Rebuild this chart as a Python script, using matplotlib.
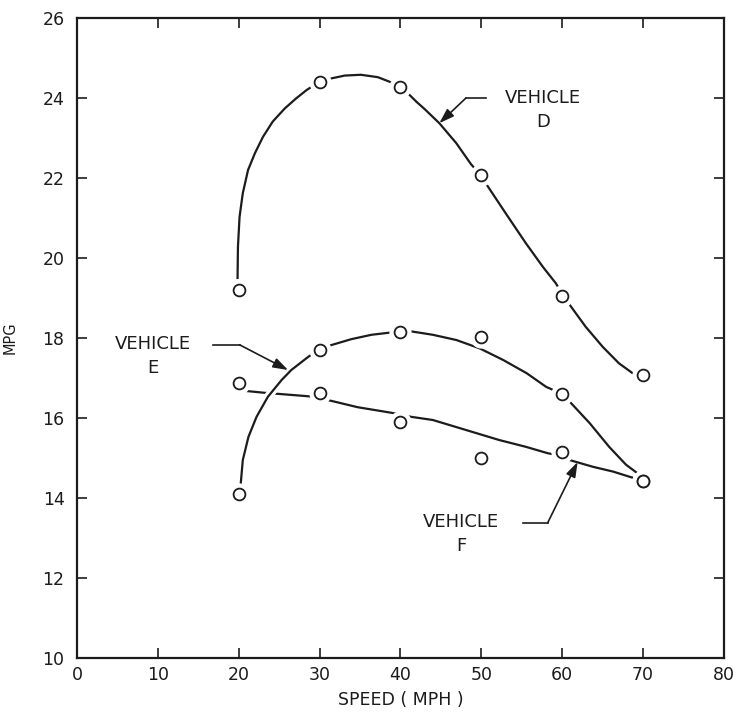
import matplotlib
matplotlib.use('Agg')
import matplotlib.pyplot as plt
import matplotlib.patheffects as pe
import numpy as np

# measured points (open circles)
speed = [20, 30, 40, 50, 60, 70]
mpg_d = [19.2, 24.4, 24.28, 22.07, 19.05, 17.08]
mpg_e = [14.1, 17.7, 18.15, 18.02, 16.6, 14.42]
mpg_f = [16.87, 16.63, 15.91, 15.0, 15.15, 14.43]

# hand-drawn fitted curves
curve_d_x = [19.85, 19.9, 20.1, 20.5, 21.15, 22.0, 23.0, 24.2, 25.7, 27.1, 28.4, 29.8,
             31.0, 33.1, 35.1, 37.2, 38.6, 39.9, 41.1, 42.0, 43.0, 44.8, 46.9, 48.7, 49.9,
             50.6, 53.0, 55.5, 57.6, 59.2, 60.0, 61.1, 62.9, 65.0, 67.0, 68.7, 70.0]
curve_d_y = [19.5, 20.28, 21.03, 21.62, 22.2, 22.62, 23.03, 23.41, 23.74, 23.99, 24.2, 24.38,
             24.47, 24.56, 24.58, 24.52, 24.41, 24.28, 24.08, 23.9, 23.72, 23.37, 22.87, 22.35,
             22.07, 21.85, 21.12, 20.37, 19.78, 19.37, 19.1, 18.78, 18.28, 17.78, 17.37, 17.12,
             17.08]

curve_e_x = [20.25, 20.5, 21.2, 22.2, 23.6, 25.3, 26.5, 28.6, 30.0, 31.4, 33.9, 36.4, 38.5,
             40.0, 41.5, 44.0, 46.9, 49.8, 52.7, 55.6, 58.0, 60.0, 61.1, 63.4, 65.8, 67.9,
             69.3, 70.0]
curve_e_y = [14.37, 14.95, 15.53, 16.03, 16.53, 16.95, 17.2, 17.53, 17.72, 17.82, 17.97,
             18.08, 18.13, 18.17, 18.16, 18.08, 17.95, 17.74, 17.45, 17.12, 16.78, 16.6,
             16.37, 15.87, 15.28, 14.83, 14.62, 14.43]

curve_f_x = [20.0, 20.7, 23.2, 25.1, 28.2, 30.0, 31.0, 34.7, 38.9, 40.0, 41.3, 44.0, 48.1,
             52.2, 55.5, 58.2, 60.0, 60.9, 63.8, 66.3, 68.5, 70.0]
curve_f_y = [16.72, 16.68, 16.63, 16.6, 16.55, 16.52, 16.45, 16.27, 16.13, 16.08, 16.03,
             15.95, 15.7, 15.45, 15.28, 15.12, 15.05, 14.95, 14.78, 14.66, 14.52, 14.43]

ink = '#1c1c1c'
plt.rcParams['font.family'] = ['DejaVu Sans']

fig = plt.figure(figsize=(7.42, 7.13), dpi=100)
ax = fig.add_axes([0.1038, 0.0771, 0.8719, 0.8977])

ax.plot(curve_d_x, curve_d_y, color=ink, lw=1.6, solid_joinstyle='round', zorder=2)
ax.plot(curve_f_x, curve_f_y, color=ink, lw=1.6, solid_joinstyle='round', zorder=2)
# curve E passes over F with a small break, as drawn in the original
ax.plot(curve_e_x, curve_e_y, color=ink, lw=1.6, solid_joinstyle='round', zorder=2.5,
        path_effects=[pe.withStroke(linewidth=6, foreground='white')])

# white halo so the curves stop short of each circle
for y in (mpg_d, mpg_e, mpg_f):
    ax.plot(speed, y, 'o', ms=15, mfc='white', mec='white', zorder=3)
    ax.plot(speed, y, 'o', ms=8.5, mfc='white', mec=ink, mew=1.3, zorder=4)

# labels with leaders
lab = dict(fontsize=13, color=ink, ha='center', va='center', linespacing=1.4)
arr = dict(arrowstyle='-|>,head_length=0.9,head_width=0.3', color=ink, lw=1.2,
           shrinkA=0, shrinkB=0)

ax.text(57.6, 23.7, 'VEHICLE\nD', **lab)
ax.plot([50.6, 48.1], [24.0, 24.0], color=ink, lw=1.2)
ax.annotate('', xy=(44.8, 23.37), xytext=(48.1, 24.0), arrowprops=arr)

ax.text(9.4, 17.55, 'VEHICLE\nE', **lab)
ax.plot([16.8, 20.1], [17.83, 17.83], color=ink, lw=1.2)
ax.annotate('', xy=(26.1, 17.2), xytext=(20.1, 17.83), arrowprops=arr)

ax.text(47.5, 13.1, 'VEHICLE\nF', **lab)
ax.plot([55.1, 58.2], [13.38, 13.38], color=ink, lw=1.2)
ax.annotate('', xy=(61.9, 14.9), xytext=(58.2, 13.38), arrowprops=arr)

ax.set_xlim(0, 80)
ax.set_ylim(10, 26)
ax.set_xticks(np.arange(0, 81, 10))
ax.set_yticks(np.arange(10, 27, 2))
ax.tick_params(direction='in', top=True, right=True, length=7, width=1.2, colors=ink,
               labelsize=12.5)
ax.tick_params(axis='x', pad=6)
ax.tick_params(axis='y', pad=9)
for s in ax.spines.values():
    s.set_linewidth(1.6)
    s.set_color(ink)

ax.set_xlabel('SPEED ( MPH )', fontsize=12.5, color=ink, labelpad=5)
ax.set_ylabel('MPG', fontsize=10.5, color=ink, labelpad=18)

fig.savefig('out.png', dpi=100)
